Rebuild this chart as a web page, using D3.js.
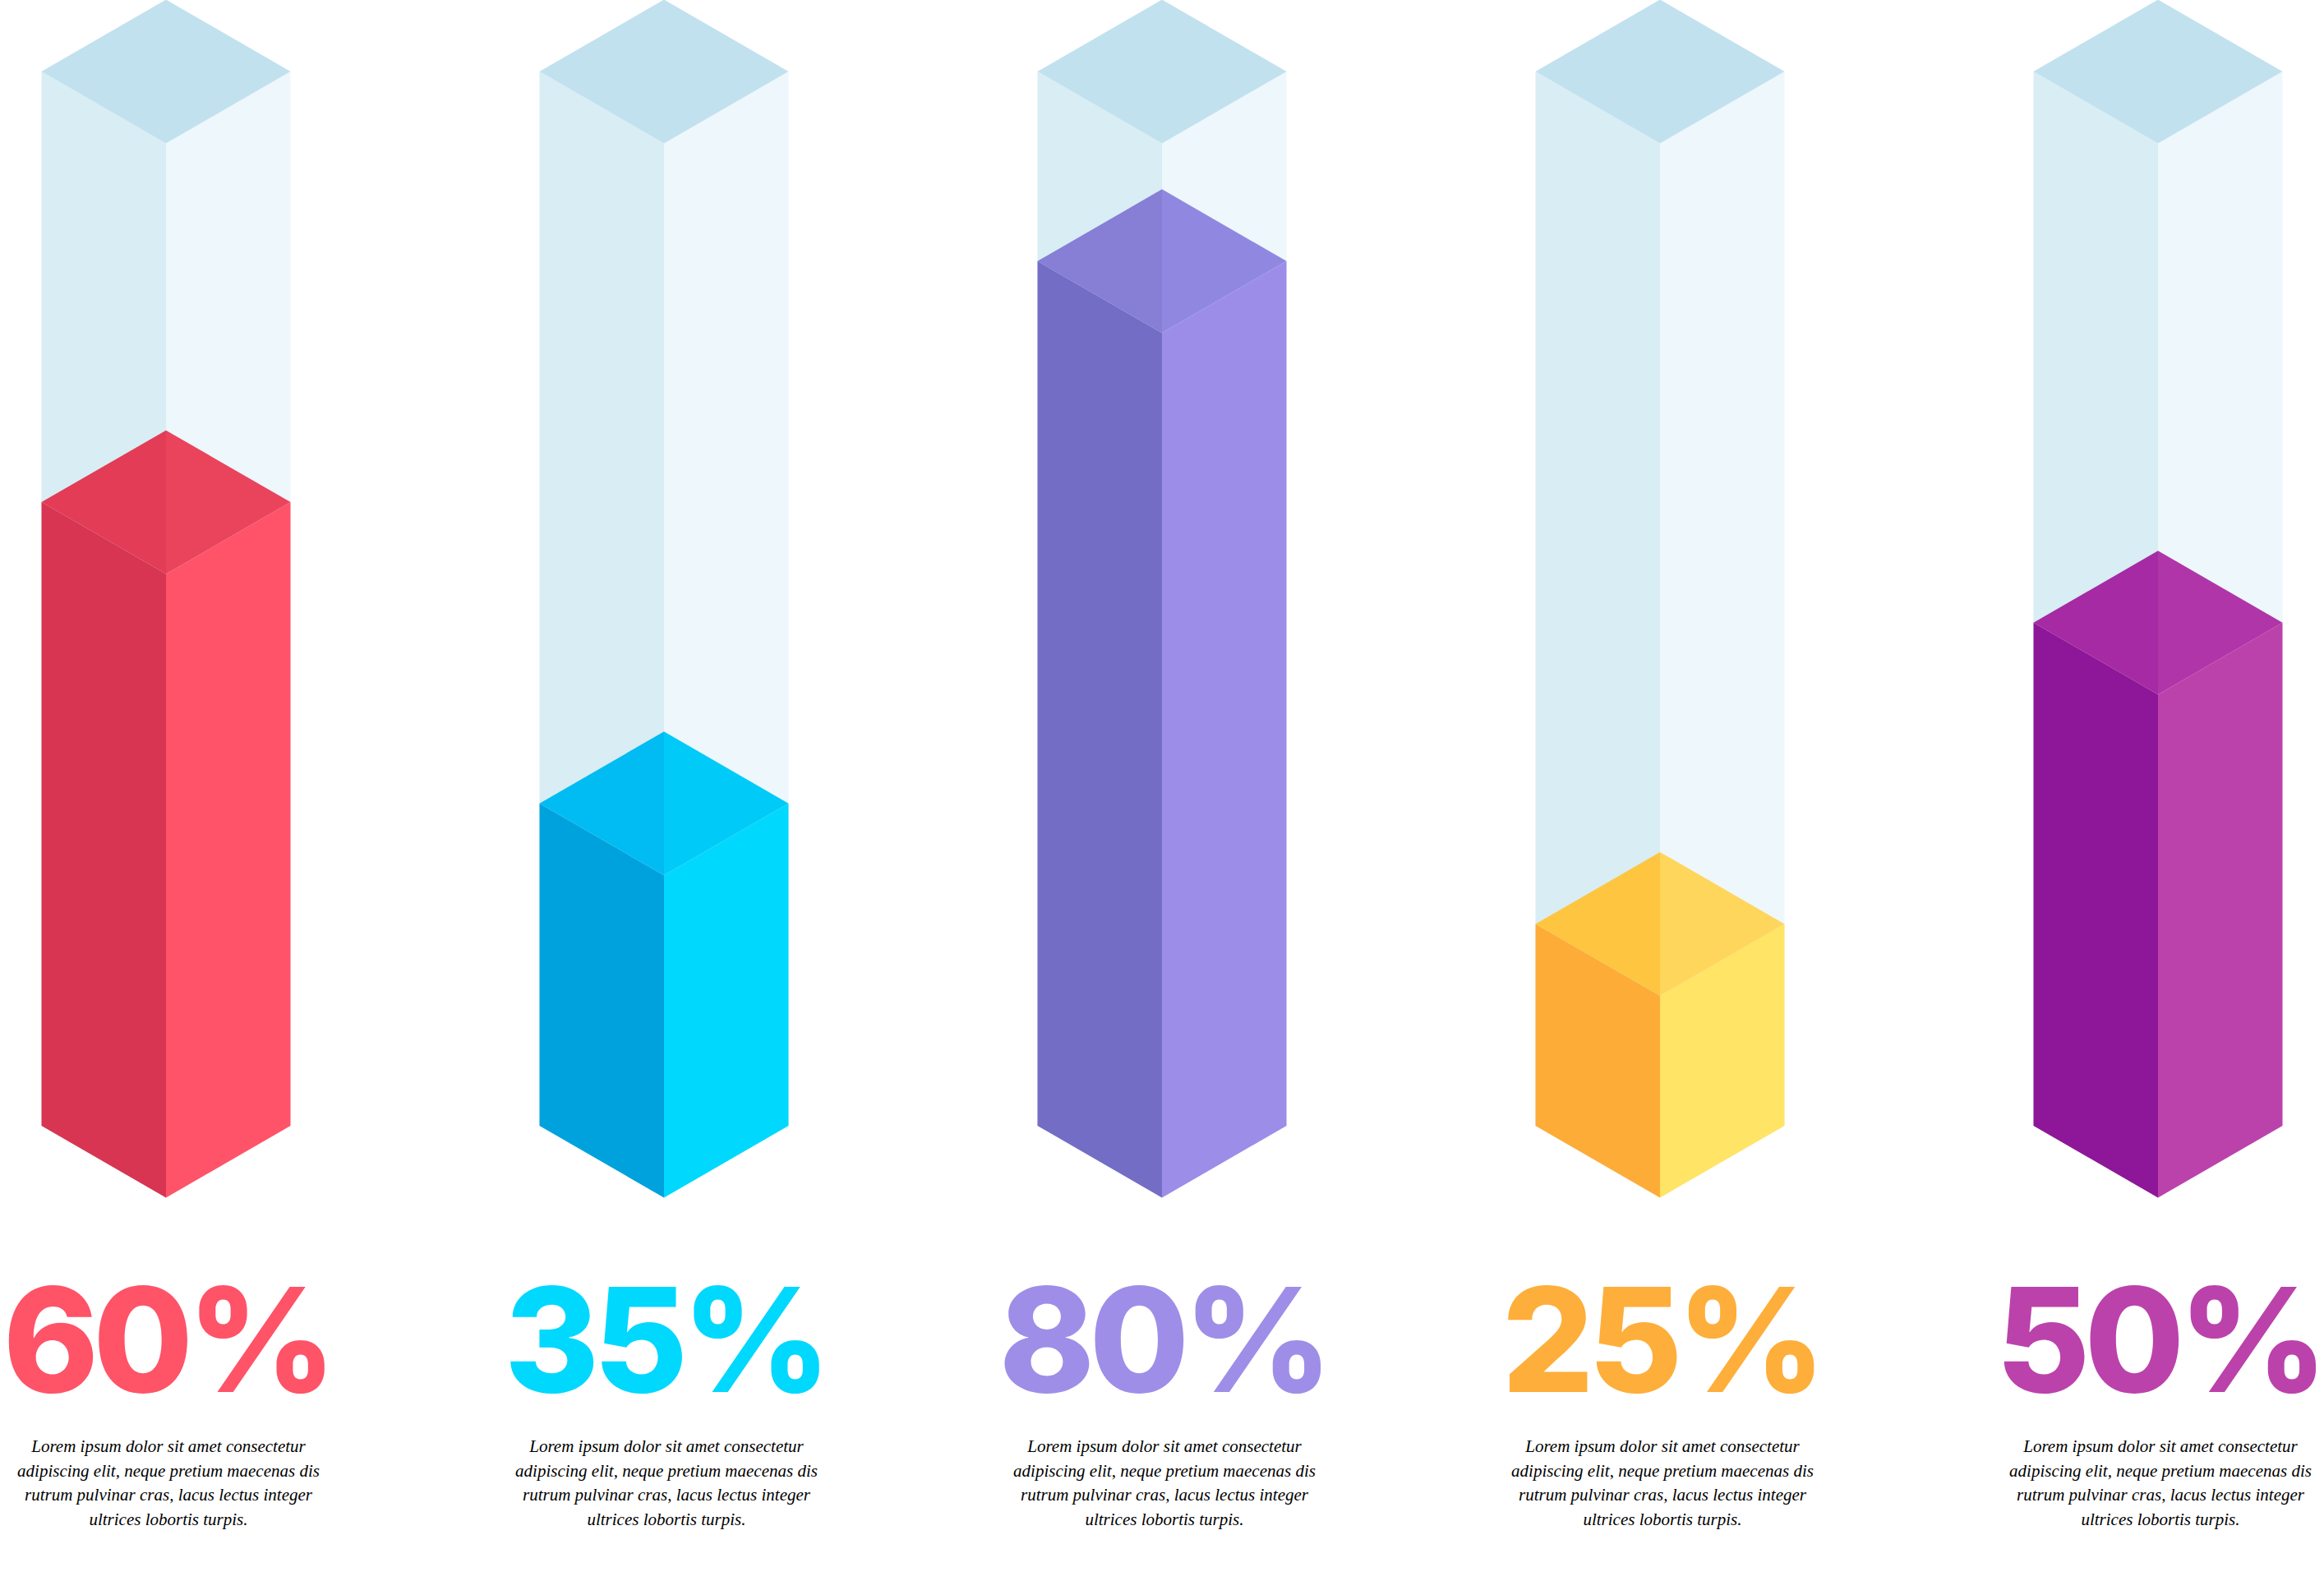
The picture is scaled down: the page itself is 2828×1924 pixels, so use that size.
<!DOCTYPE html>
<html>
<head>
<meta charset="utf-8">
<script src="https://cdn.jsdelivr.net/npm/d3@7"></script>
<style>
  body { margin: 0; background: #ffffff; }
  svg { display: block; }
</style>
</head>
<body>
<div id="chart"></div>
<script>
// data
const categories = ["A", "B", "C", "D", "E"];
const values = [60, 35, 80, 25, 50];
const valueLabels = ["60%", "35%", "80%", "25%", "50%"];
const descLines = [
  "Lorem ipsum dolor sit amet consectetur",
  "adipiscing elit, neque pretium maecenas dis",
  "rutrum pulvinar cras, lacus lectus integer",
  "ultrices lobortis turpis."
];

// colours per column: left face, right face, top-left, top-right, label
const leftColors = ["#d73551", "#00a2de", "#746dc5", "#feac38", "#8e1698"];
const rightColors = ["#ff5369", "#00d8fe", "#9c8de8", "#ffe466", "#bb42ab"];
const topLeftColors = ["#e33c57", "#00bcf2", "#877ed6", "#fec640", "#a62aa3"];
const topRightColors = ["#ea445d", "#00cbf8", "#9088e0", "#ffd65c", "#b035a8"];
const labelColors = ["#ff5368", "#00d8fe", "#9e8ee8", "#feae3a", "#bb42ab"];

const W = 2828, H = 1924;
const halfW = 151.5;
const dy = halfW * Math.tan(Math.PI / 6);
const columnTop = 87;     // top corners of the empty glass column
const columnBottom = 1370; // bottom corners of every column

const svg = d3.select("#chart").append("svg")
  .attr("width", W)
  .attr("height", H);

svg.append("rect").attr("width", W).attr("height", H).attr("fill", "#ffffff");

//x positions of column centres
const x = d3.scalePoint()
  .domain(categories)
  .range([202, 2626]);

//value -> y of the top corners
const y = d3.scaleLinear()
  .domain([0, 100])
  .range([1491, 24.5]);

const line = d3.line();

function leftFace(cx, top) {
  return line([[cx - halfW, top], [cx, top + dy], [cx, columnBottom + dy], [cx - halfW, columnBottom]]) + "Z";
}
function rightFace(cx, top) {
  return line([[cx, top + dy], [cx + halfW, top], [cx + halfW, columnBottom], [cx, columnBottom + dy]]) + "Z";
}
function topLeft(cx, top) {
  return line([[cx - halfW, top], [cx, top - dy], [cx, top + dy]]) + "Z";
}
function topRight(cx, top) {
  return line([[cx, top - dy], [cx + halfW, top], [cx, top + dy]]) + "Z";
}

const cols = svg.selectAll("g.col")
  .data(categories)
  .enter()
  .append("g")
  .attr("class", "col");

//empty glass column
cols.append("path")
  .attr("d", d => leftFace(x(d), columnTop))
  .attr("fill", "#d9edf4");
cols.append("path")
  .attr("d", d => rightFace(x(d), columnTop))
  .attr("fill", "#eef7fb");
cols.append("path")
  .attr("d", d => topLeft(x(d), columnTop) + topRight(x(d), columnTop))
  .attr("fill", "#c2e1ef");

//filled part
cols.append("path")
  .attr("d", (d, i) => leftFace(x(d), y(values[i])))
  .attr("fill", (d, i) => leftColors[i]);
cols.append("path")
  .attr("d", (d, i) => rightFace(x(d), y(values[i])))
  .attr("fill", (d, i) => rightColors[i]);
cols.append("path")
  .attr("d", (d, i) => topLeft(x(d), y(values[i])))
  .attr("fill", (d, i) => topLeftColors[i]);
cols.append("path")
  .attr("d", (d, i) => topRight(x(d), y(values[i])))
  .attr("fill", (d, i) => topRightColors[i]);

//big percentage labels
cols.append("text")
  .attr("x", d => x(d) + 1)
  .attr("y", 1694)
  .attr("text-anchor", "middle")
  .style("font-family", "Inter, 'Open Sans', sans-serif")
  .style("font-weight", 800)
  .style("font-size", "176px")
  .style("letter-spacing", "-7px")
  .attr("fill", (d, i) => labelColors[i])
  .text((d, i) => valueLabels[i]);

//description text
const desc = cols.append("text")
  .attr("text-anchor", "middle")
  .style("font-family", "'Liberation Serif', serif")
  .style("font-style", "italic")
  .style("font-size", "21px")
  .attr("fill", "#000000");

desc.selectAll("tspan")
  .data(d => descLines.map(l => ({ col: d, text: l })))
  .enter()
  .append("tspan")
  .attr("x", d => x(d.col) + 3)
  .attr("y", (d, i) => 1767 + i * 29.5)
  .text(d => d.text);
</script>
</body>
</html>
